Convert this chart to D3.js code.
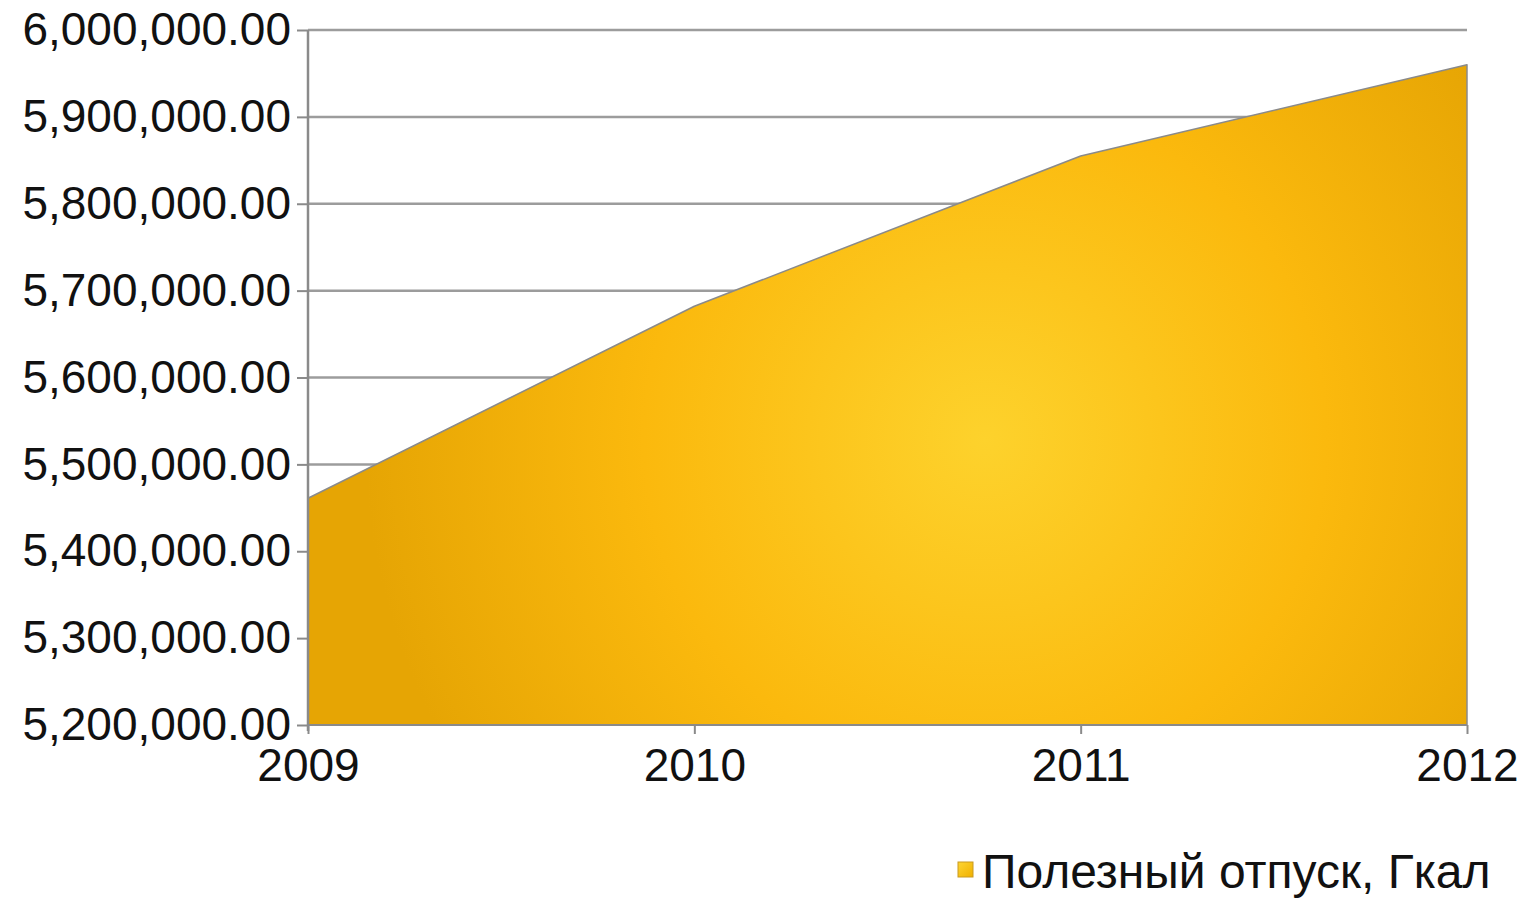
<!DOCTYPE html>
<html>
<head>
<meta charset="utf-8">
<script src="https://cdn.jsdelivr.net/npm/d3@7"></script>
<style>
  body { margin: 0; background: #fff; }
  text { font-family: "Liberation Sans", Arial, sans-serif; fill: #111; }
</style>
</head>
<body>
<div id="chart"></div>
<script>
// data
var years = ["2009", "2010", "2011", "2012"];
var values = [5461000, 5682000, 5855000, 5960000];
var yTicks = [5200000, 5300000, 5400000, 5500000, 5600000, 5700000, 5800000, 5900000, 6000000];
var seriesName = "Полезный отпуск, Гкал";

var width = 1525, height = 899;
var plotLeft = 308, plotRight = 1467, plotTop = 30, plotBottom = 725;

var svg = d3.select("#chart").append("svg")
    .attr("width", width)
    .attr("height", height);

var defs = svg.append("defs");
var grad = defs.append("radialGradient")
    .attr("id", "fillGrad")
    .attr("gradientUnits", "userSpaceOnUse")
    .attr("cx", 985).attr("cy", 440).attr("r", 620);
grad.append("stop").attr("offset", "0%").attr("stop-color", "#fdd22c");
grad.append("stop").attr("offset", "55%").attr("stop-color", "#fbb90d");
grad.append("stop").attr("offset", "100%").attr("stop-color", "#e6a504");

var lg = defs.append("linearGradient").attr("id", "legGrad")
    .attr("x1", 0).attr("y1", 0).attr("x2", 1).attr("y2", 1);
lg.append("stop").attr("offset", "0%").attr("stop-color", "#fdd534");
lg.append("stop").attr("offset", "100%").attr("stop-color", "#f0b000");

var x = d3.scalePoint().domain(years).range([plotLeft, plotRight]);
var y = d3.scaleLinear().domain([5200000, 6000000]).range([plotBottom, plotTop]);

var fmt = d3.format(",.2f");

// gridlines
svg.append("g").selectAll("line").data(yTicks.slice(1)).enter().append("line")
    .attr("x1", plotLeft).attr("x2", plotRight)
    .attr("y1", function(d) { return y(d); })
    .attr("y2", function(d) { return y(d); })
    .style("stroke", "#9c9c9c")
    .style("stroke-width", 2.5);

// area
var data = years.map(function(yr, i) { return {year: yr, value: values[i]}; });
var area = d3.area()
    .x(function(d) { return x(d.year); })
    .y0(plotBottom)
    .y1(function(d) { return y(d.value); });
svg.append("path").datum(data)
    .attr("d", area)
    .style("fill", "url(#fillGrad)")
    .style("stroke", "#8a8a8a")
    .style("stroke-width", 1.5)
    .style("stroke-linejoin", "round");

// y axis
var yAxis = d3.axisLeft(y).tickValues(yTicks).tickFormat(fmt).tickSize(11).tickPadding(6);
var gy = svg.append("g").attr("transform", "translate(" + plotLeft + ",0)").call(yAxis);
gy.select(".domain").style("stroke", "#8a8a8a").style("stroke-width", 2.5)
    .attr("d", "M0," + plotTop + "V" + (plotBottom + 6));
gy.selectAll(".tick line").style("stroke", "#8a8a8a").style("stroke-width", 2);
gy.selectAll("text").style("font-size", "46px").style("fill", "#111")
    .style("font-family", "'Liberation Sans', Arial, sans-serif");

// x axis
var xAxis = d3.axisBottom(x).tickSize(9).tickPadding(14);
var gx = svg.append("g").attr("transform", "translate(0," + plotBottom + ")").call(xAxis);
gx.select(".domain").style("stroke", "#8a8a8a").style("stroke-width", 2)
    .attr("d", "M" + plotLeft + ",0H" + plotRight);
gx.selectAll(".tick line").style("stroke", "#8a8a8a").style("stroke-width", 2);
gx.selectAll("text").style("font-size", "46px").style("fill", "#111")
    .style("font-family", "'Liberation Sans', Arial, sans-serif");

// legend
var leg = svg.append("g").attr("transform", "translate(958,862)");
leg.append("rect").attr("width", 15).attr("height", 15)
    .style("fill", "url(#legGrad)").style("stroke", "#c99a20").style("stroke-width", 1);
leg.append("text").attr("x", 24).attr("y", 26)
    .style("font-size", "48px")
    .text(seriesName);
</script>
</body>
</html>
